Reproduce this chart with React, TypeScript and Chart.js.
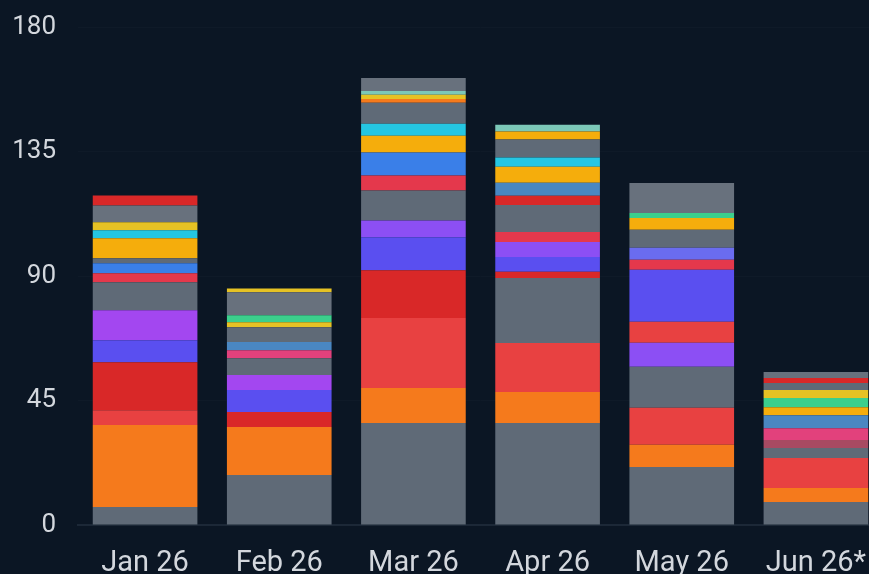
import React, { useEffect, useRef } from "react";
import { Chart, registerables } from "chart.js";

Chart.register(...registerables);

const months = ["Jan 26", "Feb 26", "Mar 26", "Apr 26", "May 26", "Jun 26*"];
const yTicks = [0, 45, 90, 135, 180];

// palette
const G = "#5f6a77";
const G2 = "#68717d";
const OR = "#f57a1c";
const RD = "#d92828";
const RL = "#e84141";
const PU = "#a347f0";
const BV = "#5a4ff0";
const VI = "#8c4ff4";
const BL = "#3a7fe8";
const CR = "#e4384c";
const AM = "#f5ad0c";
const CY = "#25c6e2";
const YE = "#e6c224";
const GR = "#3ccf8c";
const PK = "#e2417c";
const SB = "#4a87c2";
const PW = "#6a6cf0";
const RS = "#a84a62";
const TL = "#7cc8b8";

// segment values per month, bottom to top
const janValues = [6.5, 29.6, 5.4, 17.3, 8, 10.8, 10.1, 3.3, 3.6, 1.8, 7.2, 2.9, 2.9, 6.1, 3.6];
const febValues = [18.1, 17.3, 5.4, 8, 5.4, 6.1, 2.9, 2.9, 5.4, 1.8, 2.5, 8.3, 1.4];
const marValues = [36.9, 12.6, 25.3, 17.3, 11.9, 6.1, 10.8, 5.4, 8.3, 6.1, 4.3, 7.6, 1.4, 1.5, 1.4, 4.7];
const aprValues = [36.9, 11.2, 17.7, 23.5, 2.2, 5.4, 5.4, 3.6, 9.8, 3.3, 4.7, 5.8, 3.3, 6.5, 2.9, 2.5];
const mayValues = [21, 8, 13.4, 14.8, 8.7, 7.6, 18.8, 3.6, 4.3, 6.5, 4.3, 1.8, 10.8];
const junValues = [8.3, 5.1, 10.8, 3.6, 2.9, 4.3, 4.7, 2.9, 3.3, 2.9, 2.5, 1.8, 2.2];

// segment colours per month, bottom to top
const janColors = [G, OR, RL, RD, BV, PU, G, CR, BL, G, AM, CY, YE, G2, RD];
const febColors = [G, OR, RD, BV, PU, G, PK, SB, G, YE, GR, G2, YE];
const marColors = [G, OR, RL, RD, BV, VI, G, CR, BL, AM, CY, G, OR, YE, TL, G2];
const aprColors = [G, OR, RL, G, RD, BV, VI, CR, G, RD, SB, AM, CY, G, AM, TL];
const mayColors = [G, OR, RL, G, VI, RL, BV, CR, PW, G, AM, GR, G2];
const junColors = [G, OR, RL, G, RS, PK, SB, AM, GR, YE, G, RD, G2];

const allValues = [janValues, febValues, marValues, aprValues, mayValues, junValues];
const allColors = [janColors, febColors, marColors, aprColors, mayColors, junColors];

export default function App() {
  const ref = useRef<HTMLCanvasElement | null>(null);

  useEffect(() => {
    if (!ref.current) return;
    const layers = Math.max(...allValues.map((v) => v.length));
    const datasets = [];
    for (let k = 0; k < layers; k++) {
      datasets.push({
        label: "L" + k,
        data: allValues.map((v) => (k < v.length ? v[k] : 0)),
        backgroundColor: allColors.map((c) => (k < c.length ? c[k] : "rgba(0,0,0,0)")),
        borderWidth: 0,
        barPercentage: 0.78,
        categoryPercentage: 1,
      });
    }
    const chart = new Chart(ref.current, {
      type: "bar",
      data: { labels: months, datasets },
      options: {
        animation: false,
        responsive: true,
        maintainAspectRatio: false,
        layout: { padding: { top: 27, right: 1, left: 0, bottom: 0 } },
        plugins: { legend: { display: false }, tooltip: { enabled: false } },
        scales: {
          x: {
            stacked: true,
            grid: { display: false },
            border: { display: true, color: "#1c2837", width: 2 },
            ticks: {
              color: "#d3d7dd",
              padding: 13,
              font: { family: "Roboto", size: 29 },
            },
            afterFit: (s: any) => {
              s.height = 49;
              s.paddingLeft = 0;
              s.paddingRight = 0;
            },
          },
          y: {
            stacked: true,
            min: 0,
            max: 180,
            afterBuildTicks: (s: any) => {
              s.ticks = yTicks.map((v) => ({ value: v }));
            },
            grid: { color: "rgba(255,255,255,0.018)", drawTicks: false },
            border: { display: false },
            ticks: {
              color: "#d3d7dd",
              padding: 22,
              font: { family: "Roboto", size: 26 },
            },
            afterFit: (s: any) => {
              s.width = 78;
              s.paddingTop = 0;
              s.paddingBottom = 0;
            },
          },
        },
      },
    });
    return () => chart.destroy();
  }, []);

  return (
    <div
      style={{
        position: "fixed",
        left: 0,
        top: 0,
        width: "869px",
        height: "574px",
        overflow: "hidden",
        background: "#0b1624",
      }}
    >
      <div style={{ position: "relative", width: "884px", height: "574px" }}>
        <canvas ref={ref} />
      </div>
    </div>
  );
}
